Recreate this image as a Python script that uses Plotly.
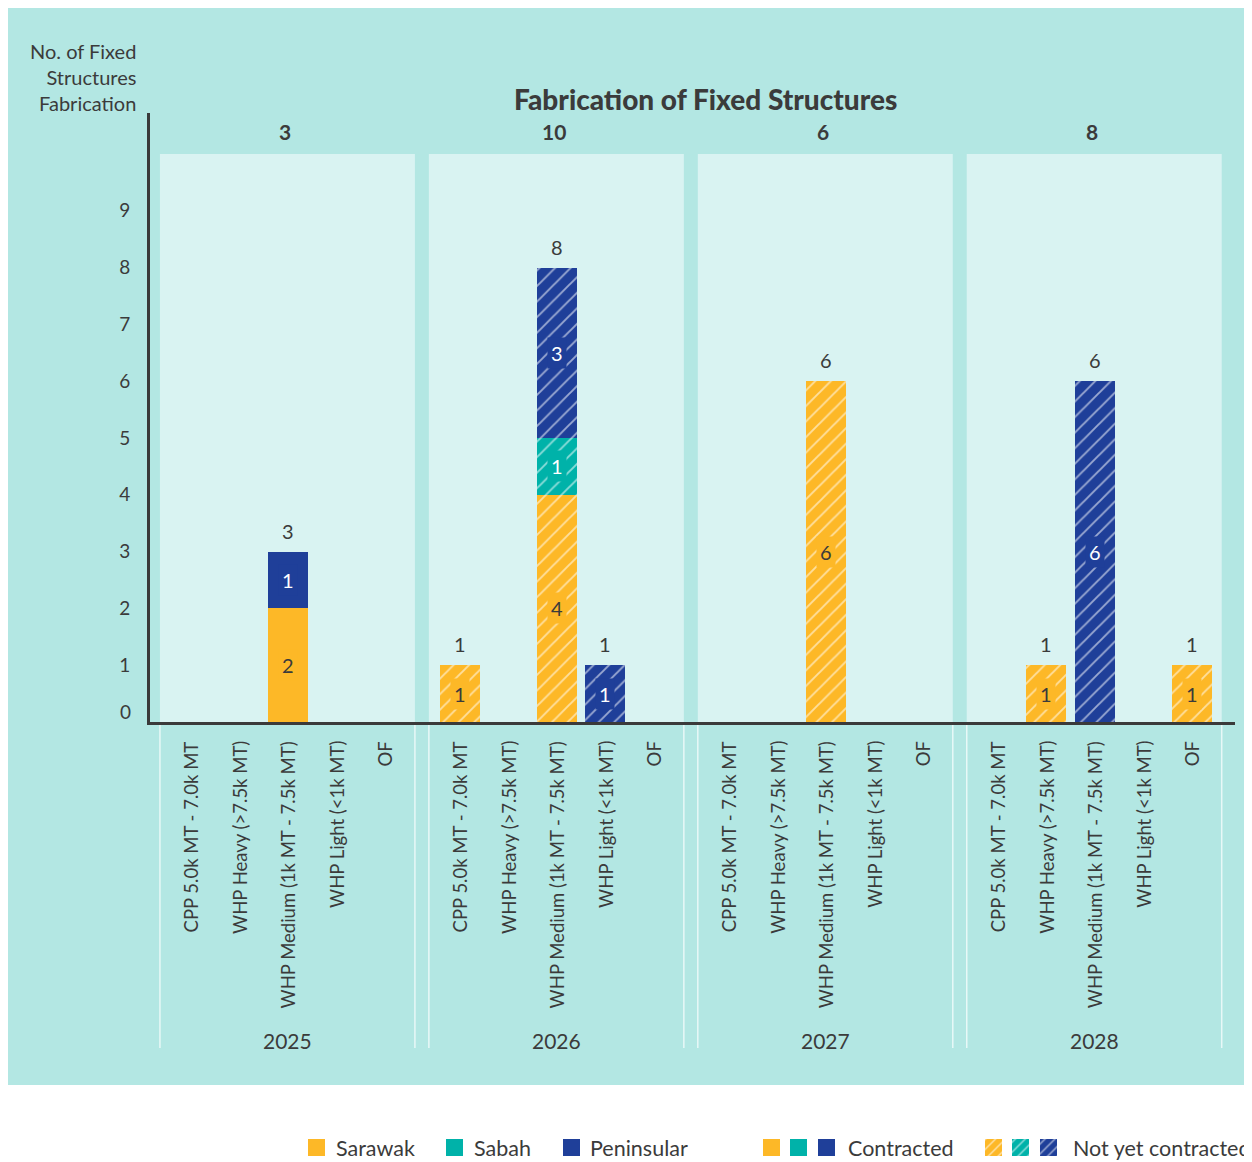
import plotly.graph_objects as go

# ---------------- data ----------------
years = ["2025", "2026", "2027", "2028"]
categories = ["CPP 5.0k MT - 7.0k MT", "WHP Heavy (>7.5k MT)",
              "WHP Medium (1k MT - 7.5k MT)", "WHP Light (<1k MT)", "OF"]

# rows = years, columns = categories
sarawak_contracted = [[0, 0, 2, 0, 0], [0, 0, 0, 0, 0], [0, 0, 0, 0, 0], [0, 0, 0, 0, 0]]
sarawak_not_contracted = [[0, 0, 0, 0, 0], [1, 0, 4, 0, 0], [0, 0, 6, 0, 0], [0, 1, 0, 0, 1]]
sabah_contracted = [[0, 0, 0, 0, 0], [0, 0, 0, 0, 0], [0, 0, 0, 0, 0], [0, 0, 0, 0, 0]]
sabah_not_contracted = [[0, 0, 0, 0, 0], [0, 0, 1, 0, 0], [0, 0, 0, 0, 0], [0, 0, 0, 0, 0]]
peninsular_contracted = [[0, 0, 1, 0, 0], [0, 0, 0, 0, 0], [0, 0, 0, 0, 0], [0, 0, 0, 0, 0]]
peninsular_not_contracted = [[0, 0, 0, 0, 0], [0, 0, 3, 1, 0], [0, 0, 0, 0, 0], [0, 0, 6, 0, 0]]

y_ticks = [1, 2, 3, 4, 5, 6, 7, 8, 9]

# ---------------- styling ----------------
YELLOW = "#fdb827"
TEAL = "#00b2a9"
BLUE = "#1f3f99"
BG = "#b3e7e3"
PANEL = "#d9f3f2"
TXT = "#3b3b3b"
FONT = "Lato"

OFF = 8  # page body margin
W, H = 1252, 1162 - OFF
PL, PR, PT, PB = 150, 1235, 113, 722
XR = [-0.845, 21.53]
YR = [0, 10.72]
STEP = 5.546
BAR_W = 0.825


def pxx(px):
    return (px - OFF) / W


def pxy(py):
    return 1 - (py - OFF) / H


def data_to_px(x):
    return PL + (x - XR[0]) / (XR[1] - XR[0]) * (PR - PL)


def xpos(i, k):
    return i * STEP + k


series = [
    ("Sarawak", "Contracted", sarawak_contracted, YELLOW, False, TXT),
    ("Sarawak", "Not yet contracted", sarawak_not_contracted, YELLOW, True, TXT),
    ("Sabah", "Contracted", sabah_contracted, TEAL, False, "white"),
    ("Sabah", "Not yet contracted", sabah_not_contracted, TEAL, True, "white"),
    ("Peninsular", "Contracted", peninsular_contracted, BLUE, False, "white"),
    ("Peninsular", "Not yet contracted", peninsular_not_contracted, BLUE, True, "white"),
]

fig = go.Figure()
annotations = []
shapes = []

# background
shapes.append(dict(type="rect", xref="paper", yref="paper", x0=pxx(7), x1=pxx(1270),
                   y0=pxy(1085), y1=pxy(5), fillcolor=BG, line_width=0, layer="below"))

# panels
for i, yr in enumerate(years):
    x0 = xpos(i, 0) - 0.64
    x1 = x0 + 5.258
    shapes.append(dict(type="rect", xref="x", yref="y", x0=x0, x1=x1, y0=0, y1=10,
                       fillcolor=PANEL, line_width=0, layer="below"))
    for xe in (x0, x1):
        p = data_to_px(xe)
        shapes.append(dict(type="line", xref="paper", yref="paper", x0=pxx(p), x1=pxx(p),
                           y0=pxy(724), y1=pxy(1048), line=dict(color="#e8f8f7", width=1.5),
                           layer="below"))
    # year label
    annotations.append(dict(x=(x0 + x1) / 2, xref="x", y=pxy(1040), yref="paper",
                            text=yr, showarrow=False, font=dict(family=FONT, size=21, color=TXT),
                            xanchor="center", yanchor="middle"))
    # panel total
    total = sum(sum(s[2][i]) for s in series)
    annotations.append(dict(x=(x0 + x1) / 2 - 0.05, xref="x", y=pxy(132), yref="paper",
                            text="<b>%d</b>" % total, showarrow=False,
                            font=dict(family=FONT, size=21, color=TXT),
                            xanchor="center", yanchor="middle"))
    # category labels
    for k, cat in enumerate(categories):
        annotations.append(dict(x=xpos(i, k), xref="x", y=pxy(739), yref="paper",
                                text=cat, textangle=-90, showarrow=False,
                                font=dict(family=FONT, size=18.5, color=TXT),
                                xanchor="center", yanchor="top"))

# bars
stack = [[0.0] * len(categories) for _ in years]
for region, status, vals, color, hatched, tcol in series:
    xs, ys, bases = [], [], []
    for i in range(len(years)):
        for k in range(len(categories)):
            v = vals[i][k]
            if v:
                xs.append(xpos(i, k))
                ys.append(v)
                bases.append(stack[i][k])
                annotations.append(dict(x=xpos(i, k), y=stack[i][k] + v / 2, xref="x", yref="y",
                                        text=str(v), showarrow=False, bgcolor=color, borderpad=3,
                                        font=dict(family=FONT, size=20, color=tcol)))
                stack[i][k] += v
    if not xs:
        continue
    marker = dict(color=color, line=dict(width=0))
    if hatched:
        marker["pattern"] = dict(shape="/", fgcolor="white", fgopacity=0.55, size=11, solidity=0.17)
    fig.add_trace(go.Bar(x=xs, y=ys, base=bases, width=BAR_W, marker=marker,
                         name=region + " - " + status, showlegend=False, hoverinfo="skip"))

# totals above bars
for i in range(len(years)):
    for k in range(len(categories)):
        t = stack[i][k]
        if t:
            annotations.append(dict(x=xpos(i, k), y=t, xref="x", yref="y", text="%d" % t,
                                    showarrow=False, yanchor="bottom", yshift=7,
                                    font=dict(family=FONT, size=20, color=TXT)))

# zero tick label (sits slightly above the axis line in the reference)
annotations.append(dict(x=pxx(133), y=pxy(711), xref="paper", yref="paper", text="0",
                        showarrow=False, xanchor="right", yanchor="middle",
                        font=dict(family=FONT, size=19, color=TXT)))

# titles
annotations.append(dict(x=pxx(705), y=pxy(99), xref="paper", yref="paper",
                        text="Fabrication of Fixed Structures", showarrow=False,
                        font=dict(family=FONT, size=28, color=TXT, weight=900),
                        xanchor="center", yanchor="middle"))
annotations.append(dict(x=pxx(138), y=pxy(37), xref="paper", yref="paper",
                        text="No. of Fixed<br>Structures<br>Fabrication", showarrow=False,
                        align="right", xanchor="right", yanchor="top",
                        font=dict(family=FONT, size=20, color=TXT)))

# ---------------- custom legend ----------------
legend_solid = [(316.5, YELLOW), (454.5, TEAL), (571.5, BLUE),
                (771.5, YELLOW), (798.5, TEAL), (826.5, BLUE)]
legend_hatched = [(993.5, YELLOW), (1020.5, TEAL), (1048.5, BLUE)]
for cx, col in legend_solid:
    fig.add_trace(go.Bar(x=[cx], y=[17], base=[1139], width=17, xaxis="x2", yaxis="y2",
                         marker=dict(color=col, line=dict(width=0)), showlegend=False,
                         hoverinfo="skip"))
for cx, col in legend_hatched:
    fig.add_trace(go.Bar(x=[cx], y=[17], base=[1139], width=17, xaxis="x2", yaxis="y2",
                         marker=dict(color=col, line=dict(width=0),
                                     pattern=dict(shape="/", fgcolor="white", fgopacity=0.6,
                                                  size=7, solidity=0.2)),
                         showlegend=False, hoverinfo="skip"))
legend_texts = [(334, "Sarawak"), (472, "Sabah"), (588, "Peninsular"),
                (846, "Contracted"), (1071, "Not yet contracted")]
for lx, txt in legend_texts:
    annotations.append(dict(x=pxx(lx), y=pxy(1148), xref="paper", yref="paper", text=txt,
                            showarrow=False, xanchor="left", yanchor="middle",
                            font=dict(family=FONT, size=21.5, color=TXT)))

fig.update_layout(
    width=W, height=H,
    margin=dict(l=0, r=0, t=0, b=0, autoexpand=False),
    paper_bgcolor="white", plot_bgcolor="rgba(0,0,0,0)",
    barmode="overlay", bargap=0,
    showlegend=False,
    font=dict(family=FONT, color=TXT),
    xaxis=dict(domain=[pxx(PL), pxx(PR)], range=XR, showgrid=False, zeroline=False,
               showticklabels=False, ticks="", showline=True, linecolor="#3a3a3a",
               linewidth=3, fixedrange=True),
    yaxis=dict(domain=[pxy(PB), pxy(PT)], range=YR, showgrid=False, zeroline=False,
               tickvals=y_ticks, ticktext=[str(v) for v in y_ticks], ticks="",
               tickfont=dict(family=FONT, size=19, color=TXT), ticklabelstandoff=13,
               showline=True, linecolor="#3a3a3a", linewidth=3, fixedrange=True),
    xaxis2=dict(domain=[0, 1], range=[OFF, OFF + W], visible=False, anchor="y2",
                fixedrange=True),
    yaxis2=dict(domain=[0, 1], range=[OFF + H, OFF], visible=False, anchor="x2",
                fixedrange=True),
    shapes=shapes,
    annotations=annotations,
)

fig.write_html("out.html")
